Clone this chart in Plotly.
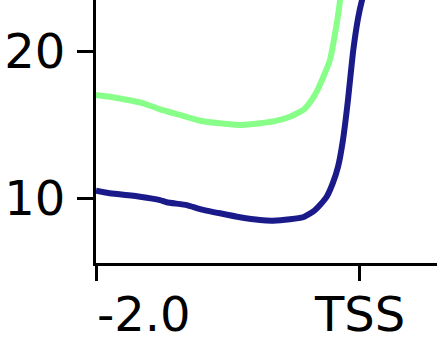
import plotly.graph_objects as go

# positions in kb relative to TSS
green_x = [-2.0, -1.894, -1.716, -1.640, -1.513, -1.361, -1.209, -1.057, -0.905, -0.753, -0.626,
           -0.525, -0.423, -0.360, -0.322, -0.271, -0.221, -0.195, -0.165, -0.144, -0.12]
green_y = [17.01, 16.89, 16.60, 16.44, 16.03, 15.65, 15.26, 15.08, 14.97, 15.08, 15.26,
           15.53, 15.99, 16.67, 17.23, 18.25, 19.39, 20.52, 22.11, 23.47, 26.0]

navy_x = [-2.0, -1.894, -1.665, -1.513, -1.462, -1.310, -1.209, -1.057, -0.905, -0.753, -0.654,
          -0.525, -0.426, -0.350, -0.290, -0.246, -0.200, -0.160, -0.122, -0.084, -0.046, -0.008, 0.023, 0.04]
navy_y = [10.50, 10.32, 10.09, 9.86, 9.71, 9.52, 9.25, 8.96, 8.69, 8.50, 8.46,
          8.55, 8.69, 9.07, 9.6, 10.09, 11.0, 12.11, 13.95, 16.67, 19.9, 22.2, 23.47, 24.0]

x_tick_vals = [-2.0, 0.0]
x_tick_text = ["-2.0", "TSS"]
x_tick_anchor = ["left", "center"]
y_tick_vals = [10, 20]

fig = go.Figure()
fig.add_trace(go.Scatter(x=green_x, y=green_y, mode="lines",
                         line=dict(color="#88FF88", width=6, shape="spline", smoothing=0.4)))
fig.add_trace(go.Scatter(x=navy_x, y=navy_y, mode="lines",
                         line=dict(color="#1A1A8A", width=6, shape="spline", smoothing=0.4)))

for xv, txt, anc in zip(x_tick_vals, x_tick_text, x_tick_anchor):
    fig.add_annotation(x=xv, xref="x", y=-0.080, yref="paper", text=txt, showarrow=False,
                       xanchor=anc, yanchor="top", xshift=(-1 if anc == "left" else 0),
                       font=dict(family="DejaVu Sans", size=48, color="black"))

fig.update_layout(
    width=437, height=355,
    margin=dict(l=96, r=0, t=0, b=92),
    paper_bgcolor="white", plot_bgcolor="white",
    showlegend=False,
    font=dict(family="DejaVu Sans", size=48, color="black"),
)
fig.update_xaxes(range=[-2.0, 0.593], tickvals=x_tick_vals, showticklabels=False,
                 showgrid=False, zeroline=False, showline=True, linecolor="black", linewidth=3,
                 ticks="outside", ticklen=15, tickwidth=3, tickcolor="black")
fig.update_yaxes(range=[5.58, 23.47], tickvals=y_tick_vals,
                 showgrid=False, zeroline=False, showline=True, linecolor="black", linewidth=3,
                 ticks="outside", ticklen=16, tickwidth=3, tickcolor="black", ticklabelstandoff=2)

fig.write_html("out.html")
